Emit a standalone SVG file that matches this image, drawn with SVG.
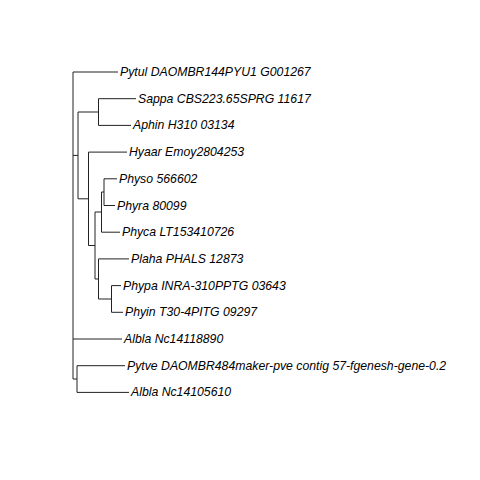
<svg xmlns="http://www.w3.org/2000/svg" width="480" height="480" viewBox="0 0 480 480">
<style>
.e{stroke:#222;stroke-width:1;fill:none}
.t{font-family:"Liberation Sans",Arial,sans-serif;font-size:12.25px;font-style:italic;fill:#000}
</style>
<rect width="480" height="480" fill="#fff"/>
<g id="connectors" class="e">
<path d="M73,72V379"/>
<path d="M73,72H118"/>
<path d="M73,155.4H78"/>
<path d="M78,112V198.8"/>
<path d="M78,112H98.5"/>
<path d="M98.5,98.7V125.4"/>
<path d="M98.5,98.7H136"/>
<path d="M98.5,125.4H131"/>
<path d="M78,198.8H88.5"/>
<path d="M88.5,152.1V245.5"/>
<path d="M88.5,152.1H127"/>
<path d="M88.5,245.5H95"/>
<path d="M95,212V279"/>
<path d="M95,212H101.5"/>
<path d="M101.5,192V232.2"/>
<path d="M101.5,192H104"/>
<path d="M104,178.8V205.5"/>
<path d="M104,178.8H117"/>
<path d="M104,205.5H115"/>
<path d="M101.5,232.2H120"/>
<path d="M95,279H98.5"/>
<path d="M98.5,258.9V299"/>
<path d="M98.5,258.9H129"/>
<path d="M98.5,299H111.5"/>
<path d="M111.5,285.6V312.3"/>
<path d="M111.5,285.6H121"/>
<path d="M111.5,312.3H123"/>
<path d="M73,339H122"/>
<path d="M73,379H77"/>
<path d="M77,365.7V392.4"/>
<path d="M77,365.7H125"/>
<path d="M77,392.4H129"/>
</g>
<g id="Pytul"><text class="t" x="120" y="76">Pytul DAOMBR144PYU1 G001267</text></g>
<g id="Sappa"><text class="t" x="138" y="102.7">Sappa CBS223.65SPRG 11617</text></g>
<g id="Aphin"><text class="t" x="133" y="129.4">Aphin H310 03134</text></g>
<g id="Hyaar"><text class="t" x="129" y="156.1">Hyaar Emoy2804253</text></g>
<g id="Physo"><text class="t" x="119" y="182.8">Physo 566602</text></g>
<g id="Phyra"><text class="t" x="117" y="209.5">Phyra 80099</text></g>
<g id="Phyca"><text class="t" x="122" y="236.2">Phyca LT153410726</text></g>
<g id="Plaha"><text class="t" x="131" y="262.9">Plaha PHALS 12873</text></g>
<g id="Phypa"><text class="t" x="123" y="289.6">Phypa INRA-310PPTG 03643</text></g>
<g id="Phyin"><text class="t" x="125" y="316.3">Phyin T30-4PITG 09297</text></g>
<g id="Albla1"><text class="t" x="124" y="343">Albla Nc14118890</text></g>
<g id="Pytve"><text class="t" x="127" y="369.7">Pytve DAOMBR484maker-pve contig 57-fgenesh-gene-0.2</text></g>
<g id="Albla2"><text class="t" x="131" y="396.4">Albla Nc14105610</text></g>
</svg>
